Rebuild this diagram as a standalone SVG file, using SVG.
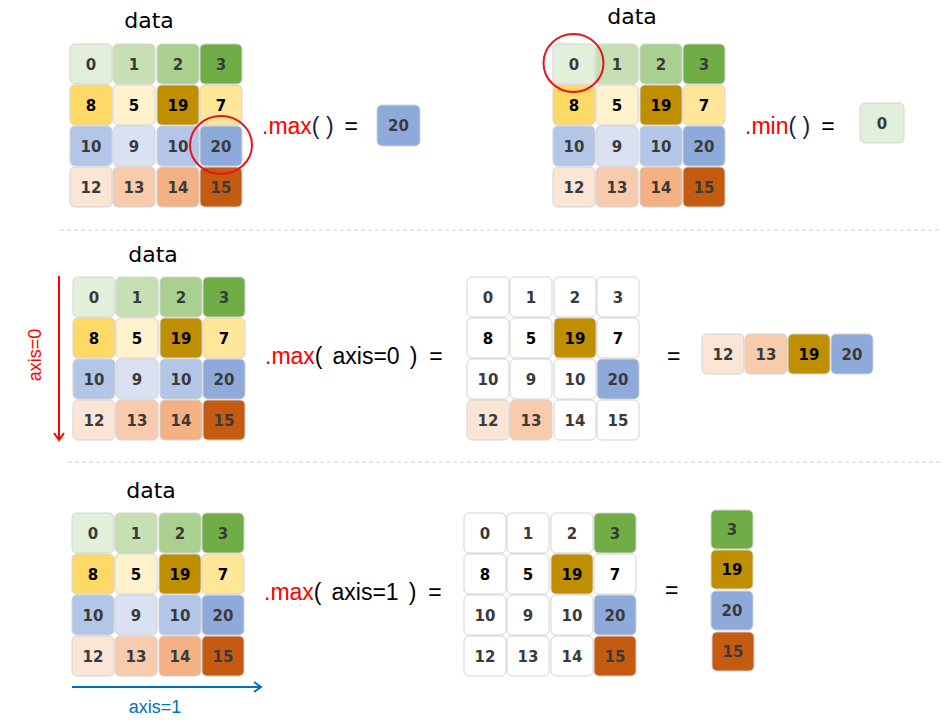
<svg xmlns="http://www.w3.org/2000/svg" width="950" height="725" viewBox="0 0 950 725">
<style>
.c{stroke:#d3d3d3;stroke-width:1}
.w{fill:#ffffff}
.g0{fill:#e2efda}.g1{fill:#c6e0b4}.g2{fill:#a9d08e}.g3{fill:#70ad47}
.y0{fill:#ffd966}.y1{fill:#fff2cc}.y2{fill:#bf8f00}.y3{fill:#ffe699}
.b0{fill:#b4c6e7}.b1{fill:#d9e1f2}.b3{fill:#8eaadb}
.o0{fill:#fbe5d6}.o1{fill:#f8cbad}.o2{fill:#f4b183}.o3{fill:#c55a11}
.n{font-family:"DejaVu Sans",sans-serif;font-weight:bold;font-size:15px;fill:#3a3a3a;text-anchor:middle}
.k{fill:#000000}
.ttl{font-family:"DejaVu Sans",sans-serif;font-size:22px;fill:#000;text-anchor:middle}
.fn{font-family:"Liberation Sans",sans-serif;font-size:23px;fill:#000}
.red{fill:#ff0000}
.sep{stroke:#cfcfcf;stroke-width:1;stroke-dasharray:4 3;fill:none}
.circ{fill:none;stroke:#e8141a;stroke-width:2}
</style>
<defs>
<marker id="arR" markerWidth="12" markerHeight="12" refX="9" refY="6" orient="auto" markerUnits="userSpaceOnUse">
<path d="M2,1 L9,6 L2,11" fill="none" stroke="#ff0000" stroke-width="2"/>
</marker>
<marker id="arB" markerWidth="12" markerHeight="12" refX="9" refY="6" orient="auto" markerUnits="userSpaceOnUse">
<path d="M2,1 L9,6 L2,11" fill="none" stroke="#0070c0" stroke-width="2"/>
</marker>
</defs>

<g id="separators">
<line class="sep" x1="60" y1="230" x2="940" y2="230"/>
<line class="sep" x1="68" y1="462" x2="940" y2="462"/>
</g>

<!-- top-left -->
<g id="data-max">
<text class="ttl" x="149" y="28">data</text>
<g transform="translate(70,44)">
<rect class="c g0" x="0" y="0" width="42" height="40" rx="5"/><text class="n" x="21" y="26">0</text>
<rect class="c g1" x="43" y="0" width="42" height="40" rx="5"/><text class="n" x="64" y="26">1</text>
<rect class="c g2" x="87" y="0" width="42" height="40" rx="5"/><text class="n" x="108" y="26">2</text>
<rect class="c g3" x="130" y="0" width="42" height="40" rx="5"/><text class="n" x="151" y="26">3</text>
<rect class="c y0" x="0" y="41" width="42" height="40" rx="5"/><text class="n k" x="21" y="67">8</text>
<rect class="c y1" x="43" y="41" width="42" height="40" rx="5"/><text class="n k" x="64" y="67">5</text>
<rect class="c y2" x="87" y="41" width="42" height="40" rx="5"/><text class="n k" x="108" y="67">19</text>
<rect class="c y3" x="130" y="41" width="42" height="40" rx="5"/><text class="n k" x="151" y="67">7</text>
<rect class="c b0" x="0" y="82" width="42" height="40" rx="5"/><text class="n" x="21" y="108">10</text>
<rect class="c b1" x="43" y="82" width="42" height="40" rx="5"/><text class="n" x="64" y="108">9</text>
<rect class="c b0" x="87" y="82" width="42" height="40" rx="5"/><text class="n" x="108" y="108">10</text>
<rect class="c b3" x="130" y="82" width="42" height="40" rx="5"/><text class="n" x="151" y="108">20</text>
<rect class="c o0" x="0" y="123" width="42" height="40" rx="5"/><text class="n" x="21" y="149">12</text>
<rect class="c o1" x="43" y="123" width="42" height="40" rx="5"/><text class="n" x="64" y="149">13</text>
<rect class="c o2" x="87" y="123" width="42" height="40" rx="5"/><text class="n" x="108" y="149">14</text>
<rect class="c o3" x="130" y="123" width="42" height="40" rx="5"/><text class="n" x="151" y="149">15</text>
</g>
<ellipse class="circ" cx="221" cy="145" rx="31" ry="29"/>
</g>
<g id="op-max">
<text class="fn" x="262" y="134"><tspan class="red">.max</tspan><tspan fill="#1a1a3a">( )</tspan><tspan dx="11">=</tspan></text>
</g>
<g id="res-max">
<rect class="c b3" x="377" y="105" width="43" height="41" rx="5"/><text class="n" x="398.5" y="131">20</text>
</g>

<!-- top-right -->
<g id="data-min">
<text class="ttl" x="632" y="24">data</text>
<g transform="translate(553,44)">
<rect class="c g0" x="0" y="0" width="42" height="40" rx="5"/><text class="n" x="21" y="26">0</text>
<rect class="c g1" x="43" y="0" width="42" height="40" rx="5"/><text class="n" x="64" y="26">1</text>
<rect class="c g2" x="87" y="0" width="42" height="40" rx="5"/><text class="n" x="108" y="26">2</text>
<rect class="c g3" x="130" y="0" width="42" height="40" rx="5"/><text class="n" x="151" y="26">3</text>
<rect class="c y0" x="0" y="41" width="42" height="40" rx="5"/><text class="n k" x="21" y="67">8</text>
<rect class="c y1" x="43" y="41" width="42" height="40" rx="5"/><text class="n k" x="64" y="67">5</text>
<rect class="c y2" x="87" y="41" width="42" height="40" rx="5"/><text class="n k" x="108" y="67">19</text>
<rect class="c y3" x="130" y="41" width="42" height="40" rx="5"/><text class="n k" x="151" y="67">7</text>
<rect class="c b0" x="0" y="82" width="42" height="40" rx="5"/><text class="n" x="21" y="108">10</text>
<rect class="c b1" x="43" y="82" width="42" height="40" rx="5"/><text class="n" x="64" y="108">9</text>
<rect class="c b0" x="87" y="82" width="42" height="40" rx="5"/><text class="n" x="108" y="108">10</text>
<rect class="c b3" x="130" y="82" width="42" height="40" rx="5"/><text class="n" x="151" y="108">20</text>
<rect class="c o0" x="0" y="123" width="42" height="40" rx="5"/><text class="n" x="21" y="149">12</text>
<rect class="c o1" x="43" y="123" width="42" height="40" rx="5"/><text class="n" x="64" y="149">13</text>
<rect class="c o2" x="87" y="123" width="42" height="40" rx="5"/><text class="n" x="108" y="149">14</text>
<rect class="c o3" x="130" y="123" width="42" height="40" rx="5"/><text class="n" x="151" y="149">15</text>
</g>
<ellipse class="circ" cx="573.5" cy="63" rx="30" ry="29"/>
</g>
<g id="op-min">
<text class="fn" x="745" y="134"><tspan class="red">.min</tspan><tspan fill="#1a1a3a">( )</tspan><tspan dx="11">=</tspan></text>
</g>
<g id="res-min">
<rect class="c g0" x="860" y="103" width="44" height="40" rx="5"/><text class="n" x="882" y="129">0</text>
</g>

<!-- middle -->
<g id="data-axis0">
<text class="ttl" x="153" y="262">data</text>
<g transform="translate(73,277)">
<rect class="c g0" x="0" y="0" width="42" height="40" rx="5"/><text class="n" x="21" y="26">0</text>
<rect class="c g1" x="43" y="0" width="42" height="40" rx="5"/><text class="n" x="64" y="26">1</text>
<rect class="c g2" x="87" y="0" width="42" height="40" rx="5"/><text class="n" x="108" y="26">2</text>
<rect class="c g3" x="130" y="0" width="42" height="40" rx="5"/><text class="n" x="151" y="26">3</text>
<rect class="c y0" x="0" y="41" width="42" height="40" rx="5"/><text class="n k" x="21" y="67">8</text>
<rect class="c y1" x="43" y="41" width="42" height="40" rx="5"/><text class="n k" x="64" y="67">5</text>
<rect class="c y2" x="87" y="41" width="42" height="40" rx="5"/><text class="n k" x="108" y="67">19</text>
<rect class="c y3" x="130" y="41" width="42" height="40" rx="5"/><text class="n k" x="151" y="67">7</text>
<rect class="c b0" x="0" y="82" width="42" height="40" rx="5"/><text class="n" x="21" y="108">10</text>
<rect class="c b1" x="43" y="82" width="42" height="40" rx="5"/><text class="n" x="64" y="108">9</text>
<rect class="c b0" x="87" y="82" width="42" height="40" rx="5"/><text class="n" x="108" y="108">10</text>
<rect class="c b3" x="130" y="82" width="42" height="40" rx="5"/><text class="n" x="151" y="108">20</text>
<rect class="c o0" x="0" y="123" width="42" height="40" rx="5"/><text class="n" x="21" y="149">12</text>
<rect class="c o1" x="43" y="123" width="42" height="40" rx="5"/><text class="n" x="64" y="149">13</text>
<rect class="c o2" x="87" y="123" width="42" height="40" rx="5"/><text class="n" x="108" y="149">14</text>
<rect class="c o3" x="130" y="123" width="42" height="40" rx="5"/><text class="n" x="151" y="149">15</text>
</g>
</g>
<g id="axis0-label">
<text font-family="Liberation Sans, sans-serif" font-size="18" fill="#ff0000" text-anchor="middle" transform="translate(41,355) rotate(-90)">axis=0</text>
</g>
<g id="op-max-axis0">
<text class="fn" x="265" y="364"><tspan class="red">.max</tspan><tspan>(</tspan><tspan dx="10">axis=0</tspan><tspan dx="10">)</tspan><tspan dx="12">=</tspan></text>
</g>
<g id="sel-axis0">
<g transform="translate(467,277)">
<rect class="c w" x="0" y="0" width="42" height="40" rx="5"/><text class="n" x="21" y="26">0</text>
<rect class="c w" x="43" y="0" width="42" height="40" rx="5"/><text class="n" x="64" y="26">1</text>
<rect class="c w" x="87" y="0" width="42" height="40" rx="5"/><text class="n" x="108" y="26">2</text>
<rect class="c w" x="130" y="0" width="42" height="40" rx="5"/><text class="n" x="151" y="26">3</text>
<rect class="c w" x="0" y="41" width="42" height="40" rx="5"/><text class="n k" x="21" y="67">8</text>
<rect class="c w" x="43" y="41" width="42" height="40" rx="5"/><text class="n k" x="64" y="67">5</text>
<rect class="c y2" x="87" y="41" width="42" height="40" rx="5"/><text class="n k" x="108" y="67">19</text>
<rect class="c w" x="130" y="41" width="42" height="40" rx="5"/><text class="n k" x="151" y="67">7</text>
<rect class="c w" x="0" y="82" width="42" height="40" rx="5"/><text class="n" x="21" y="108">10</text>
<rect class="c w" x="43" y="82" width="42" height="40" rx="5"/><text class="n" x="64" y="108">9</text>
<rect class="c w" x="87" y="82" width="42" height="40" rx="5"/><text class="n" x="108" y="108">10</text>
<rect class="c b3" x="130" y="82" width="42" height="40" rx="5"/><text class="n" x="151" y="108">20</text>
<rect class="c o0" x="0" y="123" width="42" height="40" rx="5"/><text class="n" x="21" y="149">12</text>
<rect class="c o1" x="43" y="123" width="42" height="40" rx="5"/><text class="n" x="64" y="149">13</text>
<rect class="c w" x="87" y="123" width="42" height="40" rx="5"/><text class="n" x="108" y="149">14</text>
<rect class="c w" x="130" y="123" width="42" height="40" rx="5"/><text class="n" x="151" y="149">15</text>
</g>
</g>
<g id="eq-axis0"><text class="fn" x="667" y="364">=</text></g>
<g id="res-axis0">
<rect class="c o0" x="702" y="334" width="42" height="40" rx="5"/><text class="n" x="723" y="360">12</text>
<rect class="c o1" x="745" y="334" width="42" height="40" rx="5"/><text class="n" x="766" y="360">13</text>
<rect class="c y2" x="788" y="334" width="42" height="40" rx="5"/><text class="n k" x="809" y="360">19</text>
<rect class="c b3" x="831" y="334" width="42" height="40" rx="5"/><text class="n" x="852" y="360">20</text>
</g>

<!-- bottom -->
<g id="data-axis1">
<text class="ttl" x="151" y="498">data</text>
<g transform="translate(72,513)">
<rect class="c g0" x="0" y="0" width="42" height="40" rx="5"/><text class="n" x="21" y="26">0</text>
<rect class="c g1" x="43" y="0" width="42" height="40" rx="5"/><text class="n" x="64" y="26">1</text>
<rect class="c g2" x="87" y="0" width="42" height="40" rx="5"/><text class="n" x="108" y="26">2</text>
<rect class="c g3" x="130" y="0" width="42" height="40" rx="5"/><text class="n" x="151" y="26">3</text>
<rect class="c y0" x="0" y="41" width="42" height="40" rx="5"/><text class="n k" x="21" y="67">8</text>
<rect class="c y1" x="43" y="41" width="42" height="40" rx="5"/><text class="n k" x="64" y="67">5</text>
<rect class="c y2" x="87" y="41" width="42" height="40" rx="5"/><text class="n k" x="108" y="67">19</text>
<rect class="c y3" x="130" y="41" width="42" height="40" rx="5"/><text class="n k" x="151" y="67">7</text>
<rect class="c b0" x="0" y="82" width="42" height="40" rx="5"/><text class="n" x="21" y="108">10</text>
<rect class="c b1" x="43" y="82" width="42" height="40" rx="5"/><text class="n" x="64" y="108">9</text>
<rect class="c b0" x="87" y="82" width="42" height="40" rx="5"/><text class="n" x="108" y="108">10</text>
<rect class="c b3" x="130" y="82" width="42" height="40" rx="5"/><text class="n" x="151" y="108">20</text>
<rect class="c o0" x="0" y="123" width="42" height="40" rx="5"/><text class="n" x="21" y="149">12</text>
<rect class="c o1" x="43" y="123" width="42" height="40" rx="5"/><text class="n" x="64" y="149">13</text>
<rect class="c o2" x="87" y="123" width="42" height="40" rx="5"/><text class="n" x="108" y="149">14</text>
<rect class="c o3" x="130" y="123" width="42" height="40" rx="5"/><text class="n" x="151" y="149">15</text>
</g>
</g>
<g id="axis1-label">
<text font-family="Liberation Sans, sans-serif" font-size="18" fill="#0070c0" text-anchor="middle" x="155" y="713">axis=1</text>
</g>
<g id="op-max-axis1">
<text class="fn" x="264" y="600"><tspan class="red">.max</tspan><tspan>(</tspan><tspan dx="10">axis=1</tspan><tspan dx="10">)</tspan><tspan dx="12">=</tspan></text>
</g>
<g id="sel-axis1">
<g transform="translate(464,513)">
<rect class="c w" x="0" y="0" width="42" height="40" rx="5"/><text class="n" x="21" y="26">0</text>
<rect class="c w" x="43" y="0" width="42" height="40" rx="5"/><text class="n" x="64" y="26">1</text>
<rect class="c w" x="87" y="0" width="42" height="40" rx="5"/><text class="n" x="108" y="26">2</text>
<rect class="c g3" x="130" y="0" width="42" height="40" rx="5"/><text class="n" x="151" y="26">3</text>
<rect class="c w" x="0" y="41" width="42" height="40" rx="5"/><text class="n k" x="21" y="67">8</text>
<rect class="c w" x="43" y="41" width="42" height="40" rx="5"/><text class="n k" x="64" y="67">5</text>
<rect class="c y2" x="87" y="41" width="42" height="40" rx="5"/><text class="n k" x="108" y="67">19</text>
<rect class="c w" x="130" y="41" width="42" height="40" rx="5"/><text class="n k" x="151" y="67">7</text>
<rect class="c w" x="0" y="82" width="42" height="40" rx="5"/><text class="n" x="21" y="108">10</text>
<rect class="c w" x="43" y="82" width="42" height="40" rx="5"/><text class="n" x="64" y="108">9</text>
<rect class="c w" x="87" y="82" width="42" height="40" rx="5"/><text class="n" x="108" y="108">10</text>
<rect class="c b3" x="130" y="82" width="42" height="40" rx="5"/><text class="n" x="151" y="108">20</text>
<rect class="c w" x="0" y="123" width="42" height="40" rx="5"/><text class="n" x="21" y="149">12</text>
<rect class="c w" x="43" y="123" width="42" height="40" rx="5"/><text class="n" x="64" y="149">13</text>
<rect class="c w" x="87" y="123" width="42" height="40" rx="5"/><text class="n" x="108" y="149">14</text>
<rect class="c o3" x="130" y="123" width="42" height="40" rx="5"/><text class="n" x="151" y="149">15</text>
</g>
</g>
<g id="eq-axis1"><text class="fn" x="665" y="598">=</text></g>
<g id="res-axis1">
<rect class="c g3" x="711" y="510" width="42" height="39" rx="5"/><text class="n" x="732" y="535">3</text>
<rect class="c y2" x="711" y="550" width="42" height="39" rx="5"/><text class="n k" x="732" y="575">19</text>
<rect class="c b3" x="711" y="591" width="42" height="39" rx="5"/><text class="n" x="732" y="616">20</text>
<rect class="c o3" x="712" y="632" width="42" height="39" rx="5"/><text class="n" x="733" y="657">15</text>
</g>

<g id="connectors">
<line x1="59" y1="276" x2="59" y2="440" stroke="#ff0000" stroke-width="2" marker-end="url(#arR)"/>
<line x1="72" y1="687" x2="261" y2="687" stroke="#0070c0" stroke-width="2" marker-end="url(#arB)"/>
</g>
</svg>
